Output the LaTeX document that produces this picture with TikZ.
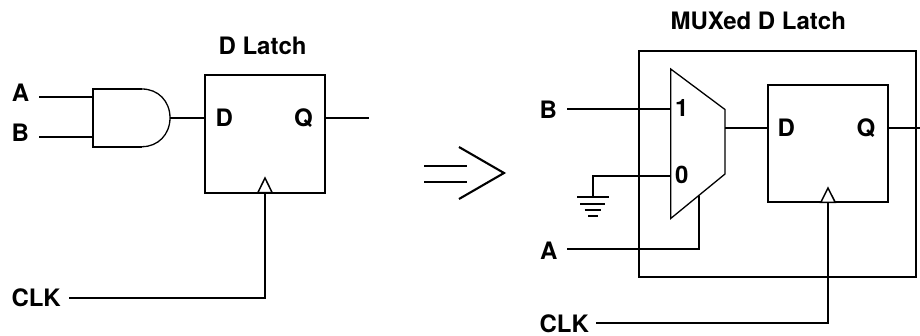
\documentclass[tikz,border=0pt]{standalone}
\usepackage{fontspec}
\setmainfont{TeX Gyre Heros}
\tikzset{
  wire/.style={line width=2.1pt,black,line join=miter},
  thin gate/.style={line width=1.3pt,black,line join=miter},
  lbl/.style={anchor=base west,inner sep=0pt,outer sep=0pt,font=\fontsize{24}{27}\selectfont\bfseries,text=black},
  latchbox/.style={draw=black,line width=2.1pt,fill=white,anchor=north west,inner sep=0pt,outer sep=0pt,minimum width=#1},
  latchbox/.default=120pt,
  clktri/.style={draw=black,line width=1.5pt,fill=white,line join=miter}
}
\begin{document}
\begin{tikzpicture}[x=1pt,y=-1pt]
\useasboundingbox (0,0) rectangle (920,335);
% ---- left circuit ----
\node[latchbox=120pt,minimum height=117.7pt] (latchL) at (205,75) {};
\coordinate (andNW) at (92.7,89);
\coordinate (andSW) at (92.7,146.7);
\coordinate (andOut) at (170,117.8);
\coordinate (andA) at (92.7,96.7);
\coordinate (andB) at (92.7,136.7);
\coordinate (aFree) at (39,96.7);
\coordinate (bFree) at (39,136.7);
\coordinate (qFreeL) at (369,117.8);
\coordinate (clkFreeL) at (69,298);
\coordinate (triLapex) at (265,178);
\coordinate (triLbl) at (257.8,192.7);
\coordinate (triLbr) at (272.2,192.7);
\coordinate (clkLcorner) at (265,298);
\draw[wire] (142,89) -- (andNW) -- (andSW) -- (142,146.7);
\draw[thin gate] (142,89) .. controls (158,89) and (170,101) .. (andOut) .. controls (170,134.5) and (158,146.7) .. (142,146.7);
\draw[wire] (aFree) -- (andA);
\draw[wire] (bFree) -- (andB);
\draw[wire] (andOut) -- (andOut -| latchL.west);
\draw[wire] (qFreeL -| latchL.east) -- (qFreeL);
\draw[clktri] (triLbl) -- (triLapex) -- (triLbr) -- cycle;
\draw[wire] (clkFreeL) -- (clkLcorner) -- (triLbl -| clkLcorner);
\node[lbl] (tA) at (12,101.7) {A};
\node[lbl] (tB) at (11.5,141) {B};
\node[lbl] (tCLK) at (11.5,306.7) {CLK};
\node[lbl] (tTitleL) at (218.5,54) {D Latch};
\node[lbl] (tD) at (215.5,126.7) {D};
\node[lbl] (tQ) at (294,126.7) {Q};
% ---- implication arrow ----
\coordinate (arA1) at (424,166.3);
\coordinate (arA2) at (467,166.3);
\coordinate (arB1) at (424,182.3);
\coordinate (arB2) at (467,182.3);
\coordinate (chevT) at (459,147);
\coordinate (chevM) at (504,173);
\coordinate (chevB) at (459,199);
\draw[wire] (arA1) -- (arA2);
\draw[wire] (arB1) -- (arB2);
\draw[wire] (chevT) -- (chevM) -- (chevB);
% ---- right circuit ----
\node[latchbox=277pt,minimum height=225.7pt,fill=none] (outer) at (639,51) {};
\node[latchbox=120.3pt,minimum height=117.3pt] (latchR) at (767.7,85) {};
\coordinate (muxTL) at (670.7,69);
\coordinate (muxTR) at (725,109.5);
\coordinate (muxBR) at (725,174);
\coordinate (muxBL) at (670.7,218.5);
\coordinate (bFreeR) at (567,109);
\coordinate (gnd) at (592.7,196.7);
\coordinate (zeroIn) at (670.7,175.7);
\coordinate (aFreeR) at (567,249);
\coordinate (selCorner) at (699,249);
\coordinate (selTop) at (699,196);
\coordinate (muxOut) at (725,127.7);
\coordinate (qFreeR) at (920,127.7);
\coordinate (clkFreeR) at (596,323.3);
\coordinate (clkRcorner) at (828,323.3);
\coordinate (triRapex) at (828,188);
\coordinate (triRbl) at (820.8,202.3);
\coordinate (triRbr) at (835.2,202.3);
\draw[wire] (bFreeR) -- (bFreeR -| muxTL);
\draw[wire] (zeroIn) -| (gnd);
\draw[wire] (577,196.7) -- (609,196.7);
\draw[wire] (580,203.7) -- (605,203.7);
\draw[wire] (584.5,209.8) -- (600.5,209.8);
\draw[wire] (588,215.7) -- (598,215.7);
\draw[wire] (aFreeR) -- (selCorner) -- (selTop);
\draw[thin gate] (muxTL) -- (muxTR) -- (muxBR) -- (muxBL) -- cycle;
\draw[wire] (muxOut) -- (muxOut -| latchR.west);
\draw[wire] (qFreeR -| latchR.east) -- (qFreeR);
\draw[clktri] (triRbl) -- (triRapex) -- (triRbr) -- cycle;
\draw[wire] (clkFreeR) -- (clkRcorner) -- (triRbl -| clkRcorner);
\node[lbl] (rB) at (539.5,118) {B};
\node[lbl] (rA) at (540,259) {A};
\node[lbl] (rCLK) at (539.5,332) {CLK};
\node[lbl] (rOne) at (675,116.7) {1};
\node[lbl] (rZero) at (675,183) {0};
\node[lbl] (rD) at (777.5,136.7) {D};
\node[lbl] (rQ) at (856.5,136.7) {Q};
\node[lbl] (tTitleR) at (670.5,29) {MUXed D Latch};
\end{tikzpicture}
\end{document}
